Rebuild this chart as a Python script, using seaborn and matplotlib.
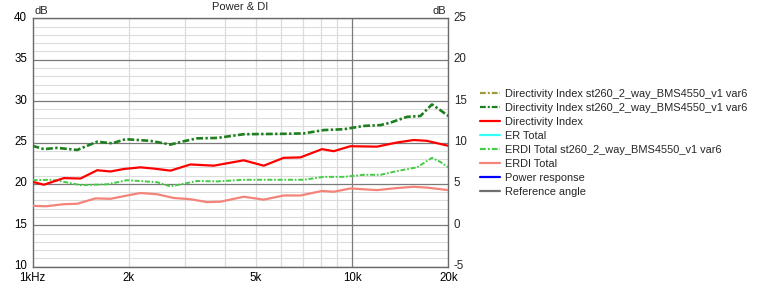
import numpy as np
import pandas as pd
import matplotlib
matplotlib.use("Agg")
import matplotlib.pyplot as plt
import matplotlib.transforms as mtransforms
from matplotlib.lines import Line2D
from matplotlib.ticker import FixedLocator, NullFormatter, FixedFormatter
import seaborn as sns

# ---- data (values in dB, right-hand DI scale) ----
di_st260_freq = [1000, 1085, 1195, 1380, 1594, 1775, 1954, 2339, 2702, 2974, 3274, 3781, 4581,
                 6110, 7058, 8152, 9413, 10873, 12264, 13183, 14862, 16354, 17783, 18889, 20000]
di_st260_val = [9.6, 9.2, 9.35, 9.1, 10.1, 9.9, 10.4, 10.2, 9.75, 10.15, 10.5, 10.55, 11.0,
                11.05, 11.1, 11.5, 11.6, 12.0, 12.1, 12.4, 13.1, 13.2, 14.6, 13.9, 13.2]

di_freq = [1000, 1085, 1253, 1413, 1594, 1754, 1931, 2177, 2396, 2702, 3121, 3690, 4581,
           5291, 6110, 6891, 8055, 8758, 9878, 11970, 13823, 15585, 17163, 20000]
di_val = [5.25, 4.9, 5.7, 5.65, 6.65, 6.5, 6.8, 7.0, 6.85, 6.6, 7.35, 7.2, 7.85,
          7.2, 8.15, 8.2, 9.2, 8.95, 9.55, 9.5, 10.0, 10.3, 10.2, 9.6]

erdi_st260_freq = [1000, 1150, 1253, 1413, 1713, 1978, 2455, 2702, 3274, 3781, 4581, 6110,
                   7058, 8152, 9413, 10873, 12264, 13823, 15960, 17783, 18889, 20000]
erdi_st260_val = [5.45, 5.5, 5.25, 4.85, 4.95, 5.45, 5.2, 4.7, 5.35, 5.3, 5.5, 5.5,
                  5.5, 5.85, 5.85, 6.1, 6.1, 6.55, 7.0, 8.15, 7.65, 7.0]

erdi_freq = [1000, 1105, 1253, 1380, 1574, 1754, 1978, 2177, 2455, 2767, 3121, 3520, 3873,
             4581, 5291, 6110, 6891, 8055, 8758, 9878, 11970, 13823, 15585, 17163, 20000]
erdi_val = [2.35, 2.3, 2.55, 2.6, 3.25, 3.2, 3.6, 3.9, 3.75, 3.3, 3.15, 2.8, 2.85,
            3.45, 3.1, 3.6, 3.6, 4.15, 4.05, 4.45, 4.25, 4.5, 4.65, 4.55, 4.25]

legend_labels = ["Directivity Index st260_2_way_BMS4550_v1 var6",
                 "Directivity Index st260_2_way_BMS4550_v1 var6",
                 "Directivity Index",
                 "ER Total",
                 "ERDI Total st260_2_way_BMS4550_v1 var6",
                 "ERDI Total",
                 "Power response",
                 "Reference angle"]
right_ticks = [-5, 0, 5, 10, 15, 20, 25]
left_tick_labels = ["10", "15", "20", "25", "30", "35", "40"]
x_ticks = [1000, 2000, 5000, 10000, 20000]
x_tick_labels = ["1kHz", "2k", "5k", "10k", "20k"]

# ---- styling ----
sns.set_style("white")
plt.rcParams["font.family"] = ["Liberation Sans", "DejaVu Sans"]
plt.rcParams["font.size"] = 8

c_olive = "#9a9a3a"
c_dkgreen = "#1e7f1e"
c_red = "#ff0000"
c_cyan = "#33ffff"
c_ltgreen = "#44cc44"
c_salmon = "#f4837a"
c_blue = "#0000ff"
c_gray = "#707070"

W, H = 760, 285
fig = plt.figure(figsize=(W / 100, H / 100), dpi=100)
L, R, T, B = 32.5, 448.3, 18.3, 266.7
ax = fig.add_axes([L / W, 1 - B / H, (R - L) / W, (B - T) / H])

dashdot = (0, (2.6, 0.9, 0.9, 0.9))

def draw(freq, val, color, lw, dashes=None):
    df = pd.DataFrame({"f": freq, "v": val})
    sns.lineplot(data=df, x="f", y="v", ax=ax, color=color, linewidth=lw, zorder=5)
    ln = ax.lines[-1]
    ln.set_solid_joinstyle("round")
    ln.set_dash_joinstyle("round")
    if dashes is not None:
        ln.set_linestyle(dashes)
    return ln

draw(erdi_freq, erdi_val, c_salmon, 1.6)
draw(erdi_st260_freq, erdi_st260_val, c_ltgreen, 1.4, dashdot)
draw(di_freq, di_val, c_red, 1.6)
draw(di_st260_freq, di_st260_val, c_dkgreen, 1.9, dashdot)

ax.set_xscale("log")
ax.set_xlim(1000, 20000)
ax.set_ylim(-5, 25)
ax.set_xlabel("")
ax.set_ylabel("")

# grid
for v in range(-5, 26):
    if v % 5 == 0:
        ax.axhline(v, color="#7a7a7a", lw=0.9, zorder=2)
    else:
        ax.axhline(v, color="#dcdcdc", lw=0.8, zorder=1)
for f in [2000, 3000, 4000, 5000, 6000, 7000, 8000, 9000, 20000]:
    ax.axvline(f, color="#dcdcdc", lw=0.9, zorder=1)
ax.axvline(10000, color="#7a7a7a", lw=0.9, zorder=2)

for s in ax.spines.values():
    s.set_color("#6a6a6a")
    s.set_linewidth(1.0)
    s.set_visible(True)

fs_tick = 8.3
ax.xaxis.set_major_locator(FixedLocator(x_ticks))
ax.xaxis.set_major_formatter(FixedFormatter(x_tick_labels))
ax.xaxis.set_minor_locator(FixedLocator([]))
ax.xaxis.set_minor_formatter(NullFormatter())
ax.yaxis.set_major_locator(FixedLocator(right_ticks))
ax.yaxis.set_major_formatter(FixedFormatter(left_tick_labels))
ax.tick_params(axis="both", length=0, labelsize=fs_tick, colors="black")
ax.tick_params(axis="y", pad=4)
ax.tick_params(axis="x", pad=4)

ax2 = ax.twinx()
ax2.set_ylim(-5, 25)
ax2.yaxis.set_major_locator(FixedLocator(right_ticks))
ax2.yaxis.set_major_formatter(FixedFormatter([str(t) for t in right_ticks]))
ax2.tick_params(axis="y", length=0, labelsize=fs_tick, pad=4)
for s in ax2.spines.values():
    s.set_visible(False)

# shift y tick labels up by ~2 px
up = mtransforms.ScaledTranslation(0, 2 / 100, fig.dpi_scale_trans)
fig.canvas.draw()
for lab in ax.get_yticklabels() + ax2.get_yticklabels():
    lab.set_transform(lab.get_transform() + up)

ax.text(0.005, 1.008, "dB", transform=ax.transAxes, ha="left", va="bottom", fontsize=8)
ax.text(0.995, 1.008, "dB", transform=ax.transAxes, ha="right", va="bottom", fontsize=8)
fig.text((L + R) / 2 / W, 1 - 2 / H, "Power & DI", ha="center", va="top", fontsize=8)

handles = [
    Line2D([], [], color=c_olive, lw=1.6, linestyle=dashdot),
    Line2D([], [], color=c_dkgreen, lw=1.6, linestyle=dashdot),
    Line2D([], [], color=c_red, lw=1.6),
    Line2D([], [], color=c_cyan, lw=1.6),
    Line2D([], [], color=c_ltgreen, lw=1.6, linestyle=dashdot),
    Line2D([], [], color=c_salmon, lw=1.6),
    Line2D([], [], color=c_blue, lw=1.6),
    Line2D([], [], color=c_gray, lw=1.6),
]
fig.legend(handles, legend_labels, loc="upper left",
           bbox_to_anchor=(480 / W, 1 - 89 / H), frameon=False,
           fontsize=7.9, handlelength=1.8, handletextpad=0.45,
           labelspacing=0.36, borderpad=0, borderaxespad=0)

fig.savefig("out.png", dpi=100)
